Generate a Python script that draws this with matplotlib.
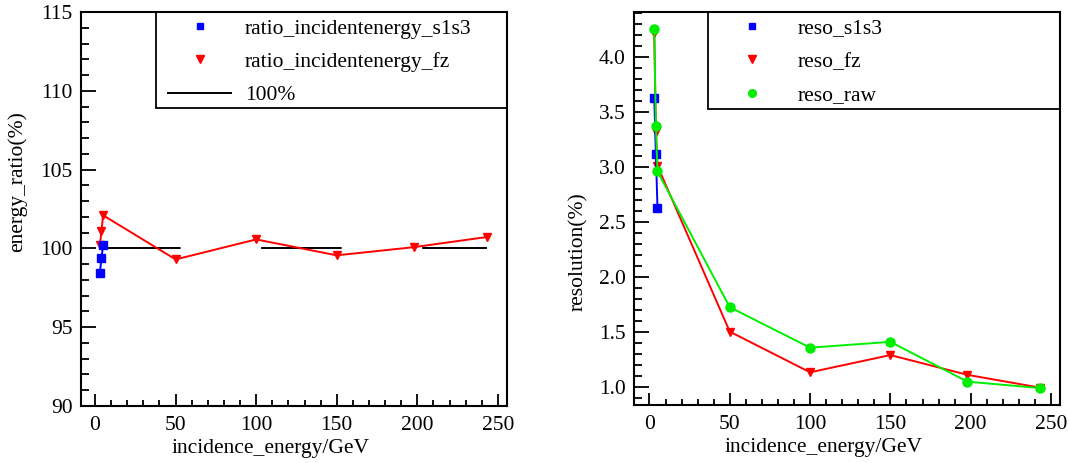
#energy_scan_plots.py

from matplotlib import pyplot as plt
from matplotlib import patches as mpatches
from matplotlib.ticker import MultipleLocator

# beam energies (GeV)
energy_low = [3, 4, 5]
energy_all = [3, 4, 5, 50, 100, 150, 198, 243]

# energy ratio (%)
ratio_s1s3 = [98.45, 99.38, 100.2]
ratio_fz = [100.2, 101.1, 102.1, 99.3, 100.57, 99.56, 100.08, 100.72]
ratio_ref = [100, 100, 100, 100, 100, 100, 100, 100]

# resolution (%)
reso_s1s3 = [3.63, 3.12, 2.63]
reso_fz = [4.215, 3.32, 3.01, 1.503, 1.133, 1.29, 1.11, 0.994]
reso_raw = [4.25, 3.375, 2.96, 1.725, 1.357, 1.41, 1.048, 0.99]

plt.rcParams['font.family'] = ['Liberation Serif', 'DejaVu Serif']
plt.rcParams['font.size'] = 15.5
plt.rcParams['lines.scale_dashes'] = False

BLUE = '#0000ff'
RED = '#ff0000'
GREEN = '#00ee00'
FS = 15.5


def style_axis(ax, xlim, ylim, ymajor, yminor):
    ax.set_xlim(*xlim)
    ax.set_ylim(*ylim)
    ax.xaxis.set_major_locator(MultipleLocator(50))
    ax.xaxis.set_minor_locator(MultipleLocator(10))
    ax.yaxis.set_major_locator(MultipleLocator(ymajor))
    ax.yaxis.set_minor_locator(MultipleLocator(yminor))
    ax.tick_params(which='both', direction='in', top=False, right=False, width=1.3, labelsize=FS)
    ax.tick_params(axis='x', which='major', length=9, pad=7)
    ax.tick_params(axis='x', which='minor', length=4.5)
    ax.tick_params(axis='y', which='major', length=11, pad=6)
    ax.tick_params(axis='y', which='minor', length=5.5)
    for sp in ax.spines.values():
        sp.set_linewidth(1.5)
    ax.set_xlabel('incidence_energy/GeV', fontsize=FS, va='center')
    ax.xaxis.set_label_coords(0.445, -0.108)


def legend_box(ax, x0, y0, handles):
    #frame drawn by hand so it sits flush with the axes corner
    box = mpatches.Rectangle((x0, y0), 1 - x0, 1 - y0, transform=ax.transAxes, fill=False,
                             edgecolor='black', linewidth=1.3, clip_on=False, zorder=5)
    ax.add_patch(box)
    ax.legend(handles=handles, loc='upper left', bbox_to_anchor=(x0 + 0.014, 1.0), frameon=False,
              borderaxespad=0, borderpad=0.3, handlelength=2.9, handletextpad=0.65,
              labelspacing=0.62, fontsize=FS)


fig = plt.figure(figsize=(10.69, 4.63), dpi=100)
ax1 = fig.add_axes([0.0758, 0.1231, 0.3982, 0.851])
ax2 = fig.add_axes([0.5931, 0.1253, 0.3985, 0.849])

#left: energy ratio
ax1.plot(energy_all, ratio_ref, color='black', lw=1.4, linestyle=(0, (58, 58)))
ax1.plot(energy_all, ratio_fz, color=RED, lw=1.4, marker='v', markersize=6)
ax1.plot(energy_low, ratio_s1s3, color=BLUE, lw=1.4, marker='s', markersize=5.2)
style_axis(ax1, (-8.7, 255.5), (90, 115), 5, 1)
ax1.set_ylabel('energy_ratio(%)', fontsize=FS, va='center')
ax1.yaxis.set_label_coords(-0.149, 0.57)
h1 = [
    plt.Line2D([], [], color=BLUE, marker='s', lw=0, markersize=5, label='ratio_incidentenergy_s1s3'),
    plt.Line2D([], [], color=RED, marker='v', lw=0, markersize=5.5, label='ratio_incidentenergy_fz'),
    plt.Line2D([], [], color='black', lw=1.4, label='100%'),
]
legend_box(ax1, 0.176, 0.7556, h1)

#right: resolution
ax2.plot(energy_all, reso_fz, color=RED, lw=1.4, marker='v', markersize=6)
ax2.plot(energy_low, reso_s1s3, color=BLUE, lw=1.4, marker='s', markersize=5.2)
ax2.plot(energy_all, reso_raw, color=GREEN, lw=1.4, marker='o', markersize=6.5)
style_axis(ax2, (-9.6, 255.6), (0.836, 4.41), 0.5, 0.1)
ax2.yaxis.set_major_formatter(plt.FormatStrFormatter('%.1f'))
ax2.set_ylabel('resolution(%)', fontsize=FS, va='center')
ax2.yaxis.set_label_coords(-0.131, 0.389)
h2 = [
    plt.Line2D([], [], color=BLUE, marker='s', lw=0, markersize=5, label='reso_s1s3'),
    plt.Line2D([], [], color=RED, marker='v', lw=0, markersize=5.5, label='reso_fz'),
    plt.Line2D([], [], color=GREEN, marker='o', lw=0, markersize=5.5, label='reso_raw'),
]
legend_box(ax2, 0.1744, 0.753, h2)

plt.savefig('out.png', dpi=100)
